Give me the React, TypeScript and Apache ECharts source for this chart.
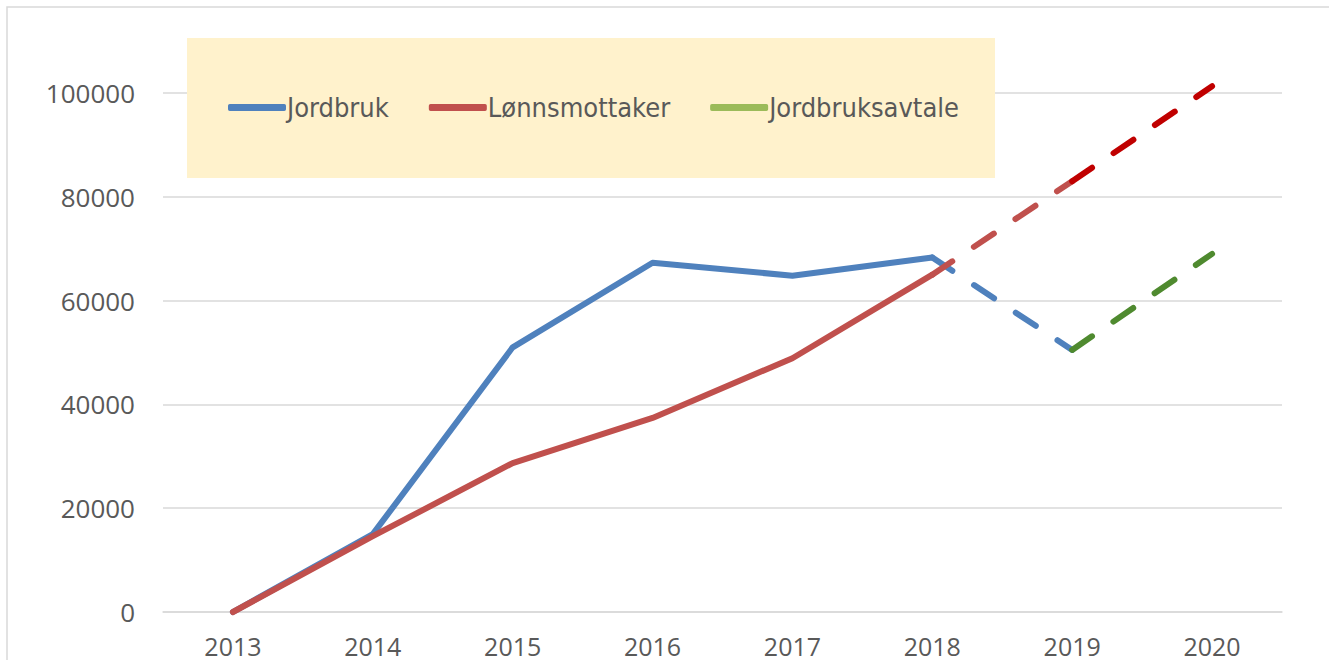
import React, { useEffect, useRef } from "react";
import * as echarts from "echarts";

const years = ["2013", "2014", "2015", "2016", "2017", "2018", "2019", "2020"];
const jordbruk = [0, 15000, 51000, 67300, 64800, 68300, null, null];
const jordbrukProj = [null, null, null, null, null, 68300, 50500, null];
const lonn = [0, 14600, 28700, 37400, 48900, 65000, null, null];
const lonnProjA = [null, null, null, null, null, 65000, 83000, null];
const lonnProjB = [null, null, null, null, null, null, 83000, 101300];
const avtale = [null, null, null, null, null, null, 50500, 69000];
const yTicks = [0, 20000, 40000, 60000, 80000, 100000];

const BLUE = "#4f81bd";
const RED = "#c0504d";
const DARKRED = "#c00000";
const GREEN = "#4f8a2f";
const GREEN_LEGEND = "#9bbb59";
const TXT = "#595959";
const FONT = "'Open Sans', 'DejaVu Sans', sans-serif";
const NARROW = "'Liberation Sans Narrow', 'DejaVu Sans Condensed', 'Open Sans', sans-serif";

export default function App() {
  const ref = useRef<HTMLDivElement>(null);
  useEffect(() => {
    if (!ref.current) return;
    const chart = echarts.init(ref.current, undefined, { renderer: "svg" });
    const dash = [24, 26];
    const mk = (name: string, data: any[], color: string, dashed: boolean, z: number) => ({
      name,
      type: "line",
      data,
      symbol: "none",
      showSymbol: false,
      clip: false,
      connectNulls: false,
      z,
      color,
      lineStyle: {
        color,
        width: 6,
        type: dashed ? dash : "solid",
        cap: "round",
        join: "round",
      },
    });
    chart.setOption({
      animation: false,
      backgroundColor: "#ffffff",
      grid: { left: 163, right: 47, top: 93, bottom: 48, containLabel: false },
      graphic: [
        {
          type: "rect",
          z: 0,
          shape: { x: 7, y: 7, width: 1340, height: 700 },
          style: { fill: "none", stroke: "#d9d9d9", lineWidth: 1.5 },
          silent: true,
        },
        {
          type: "rect",
          z: 5,
          shape: { x: 187, y: 38, width: 808, height: 140 },
          style: { fill: "#fff2cc" },
          silent: true,
        },
      ],
      legend: {
        z: 10,
        left: 228,
        top: 94,
        padding: 0,
        icon: "roundRect",
        itemWidth: 58,
        itemHeight: 7,
        itemGap: 40,
        selectedMode: false,
        textStyle: { color: TXT, fontSize: 27, fontFamily: NARROW, padding: [0, 0, 0, -4] },
        data: [
          { name: "Jordbruk", itemStyle: { color: BLUE } },
          { name: "Lønnsmottaker", itemStyle: { color: RED } },
          { name: "Jordbruksavtale", itemStyle: { color: GREEN_LEGEND } },
        ],
      },
      xAxis: {
        type: "category",
        data: years,
        boundaryGap: true,
        axisLine: { show: true, lineStyle: { color: "#d9d9d9", width: 1.5 } },
        axisTick: { show: false },
        axisLabel: { color: TXT, fontSize: 25, fontFamily: FONT, margin: 21 },
      },
      yAxis: {
        type: "value",
        min: 0,
        max: yTicks[yTicks.length - 1],
        interval: 20000,
        axisLine: { show: false },
        axisTick: { show: false },
        axisLabel: {
          color: TXT,
          fontSize: 26,
          fontFamily: FONT,
          margin: 28,
          formatter: (v: number) => String(v),
        },
        splitLine: { lineStyle: { color: "#d9d9d9", width: 1.5 } },
      },
      series: [
        mk("Jordbruk", jordbruk, BLUE, false, 2),
        mk("Jordbruk", jordbrukProj, BLUE, true, 2),
        mk("Lønnsmottaker", lonn, RED, false, 3),
        mk("Lønnsmottaker", lonnProjA, RED, true, 3),
        mk("Lønnsmottaker", lonnProjB, DARKRED, true, 3),
        mk("Jordbruksavtale", avtale, GREEN, true, 4),
      ],
    });
    return () => chart.dispose();
  }, []);
  return (
    <div
      ref={ref}
      style={{ position: "fixed", left: 0, top: 0, width: 1329, height: 660 }}
    />
  );
}
